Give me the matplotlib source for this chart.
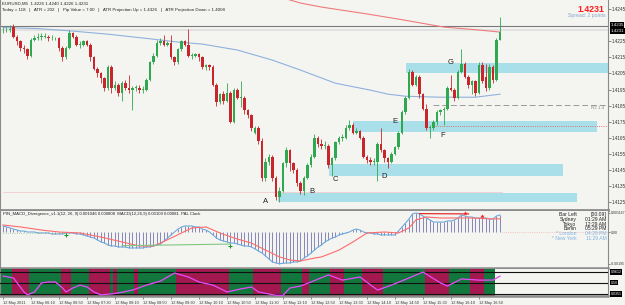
import numpy as np
import matplotlib.pyplot as plt
from matplotlib.patches import Rectangle

plt.rcParams['font.family'] = ['Liberation Sans', 'DejaVu Sans']

# EURUSD M5 candles, prices in points (1e-4)
opens = [14232, 14232, 14232, 14234, 14228, 14225, 14221, 14220, 14216, 14226,
         14227, 14228, 14228, 14228, 14227, 14227, 14227, 14221, 14215, 14221,
         14230, 14228, 14223, 14223, 14225, 14223, 14215, 14208, 14205, 14202,
         14196, 14209, 14196, 14198, 14193, 14199, 14196, 14195, 14196, 14196,
         14195, 14195, 14201, 14212, 14216, 14224, 14225, 14223, 14224, 14215,
         14212, 14220, 14225, 14223, 14216, 14216, 14217, 14215, 14209, 14210,
         14209, 14198, 14187, 14192, 14188, 14193, 14175, 14195, 14190, 14190,
         14182, 14179, 14168, 14171, 14163, 14140, 14150, 14153, 14140, 14128,
         14132, 14149, 14157, 14149, 14145, 14137, 14132, 14140, 14148, 14153,
         14165, 14161, 14160, 14160, 14148, 14152, 14162, 14165, 14165, 14171,
         14173, 14168, 14169, 14165, 14153, 14151, 14150, 14150, 14161, 14157,
         14152, 14150, 14155, 14159, 14168, 14181, 14190, 14206, 14198, 14203,
         14192, 14183, 14171, 14171, 14175, 14181, 14182, 14183, 14196, 14195,
         14190, 14206, 14211, 14203, 14198, 14200, 14193, 14210, 14203, 14196,
         14209, 14201, 14226]
highs = [14234, 14234, 14235, 14236, 14229, 14226, 14223, 14221, 14227, 14229,
         14230, 14230, 14230, 14229, 14229, 14228, 14228, 14222, 14222, 14232,
         14231, 14229, 14225, 14226, 14226, 14224, 14216, 14209, 14206, 14203,
         14210, 14210, 14200, 14199, 14200, 14201, 14204, 14197, 14198, 14198,
         14197, 14202, 14213, 14218, 14226, 14227, 14229, 14225, 14229, 14216,
         14221, 14226, 14226, 14233, 14218, 14218, 14218, 14216, 14211, 14211,
         14210, 14199, 14193, 14194, 14199, 14194, 14196, 14196, 14200, 14191,
         14183, 14180, 14172, 14172, 14165, 14152, 14155, 14154, 14141, 14134,
         14150, 14159, 14158, 14150, 14146, 14138, 14141, 14149, 14155, 14167,
         14166, 14164, 14163, 14161, 14153, 14163, 14166, 14167, 14173, 14176,
         14174, 14171, 14170, 14166, 14154, 14153, 14152, 14162, 14171, 14158,
         14153, 14156, 14160, 14169, 14182, 14191, 14208, 14207, 14204, 14204,
         14193, 14186, 14173, 14176, 14182, 14183, 14184, 14197, 14204, 14196,
         14207, 14220, 14212, 14204, 14201, 14201, 14212, 14212, 14211, 14211,
         14210, 14227, 14240]
lows = [14230, 14231, 14231, 14227, 14223, 14219, 14218, 14214, 14215, 14225,
        14226, 14226, 14227, 14225, 14226, 14226, 14219, 14213, 14214, 14220,
        14227, 14222, 14221, 14222, 14222, 14213, 14207, 14203, 14199, 14194,
        14195, 14193, 14195, 14191, 14188, 14195, 14193, 14182, 14194, 14193,
        14193, 14194, 14200, 14211, 14215, 14223, 14222, 14222, 14214, 14210,
        14211, 14219, 14222, 14215, 14214, 14215, 14213, 14208, 14207, 14207,
        14197, 14185, 14186, 14186, 14187, 14174, 14174, 14189, 14184, 14180,
        14177, 14169, 14167, 14161, 14138, 14138, 14148, 14138, 14126, 14125,
        14131, 14147, 14144, 14143, 14135, 14130, 14129, 14139, 14147, 14152,
        14159, 14158, 14158, 14146, 14141, 14151, 14161, 14163, 14164, 14170,
        14167, 14167, 14164, 14152, 14149, 14148, 14148, 14138, 14156, 14150,
        14146, 14149, 14154, 14158, 14167, 14180, 14189, 14197, 14197, 14190,
        14182, 14170, 14165, 14170, 14173, 14179, 14173, 14182, 14194, 14188,
        14189, 14205, 14202, 14196, 14192, 14191, 14192, 14199, 14194, 14195,
        14199, 14200, 14226]
closes = [14232, 14232, 14233, 14228, 14225, 14221, 14220, 14216, 14226, 14227,
          14228, 14228, 14228, 14227, 14227, 14227, 14221, 14215, 14221, 14230,
          14228, 14223, 14223, 14225, 14223, 14215, 14208, 14205, 14202, 14196,
          14209, 14196, 14198, 14193, 14199, 14196, 14195, 14196, 14196, 14195,
          14195, 14201, 14212, 14216, 14224, 14225, 14223, 14224, 14215, 14212,
          14220, 14225, 14223, 14216, 14216, 14217, 14215, 14209, 14210, 14209,
          14198, 14187, 14192, 14188, 14193, 14175, 14195, 14190, 14190, 14182,
          14179, 14171, 14171, 14163, 14140, 14150, 14153, 14140, 14128, 14132,
          14149, 14157, 14149, 14145, 14137, 14132, 14140, 14148, 14153, 14165,
          14161, 14160, 14160, 14148, 14152, 14162, 14165, 14165, 14171, 14173,
          14168, 14169, 14165, 14153, 14151, 14150, 14150, 14161, 14157, 14152,
          14150, 14155, 14159, 14168, 14181, 14190, 14206, 14198, 14203, 14192,
          14183, 14171, 14171, 14175, 14181, 14182, 14183, 14196, 14195, 14190,
          14206, 14211, 14203, 14198, 14200, 14193, 14210, 14200, 14196, 14209,
          14201, 14226, 14231]

# moving averages (bar index, price points)
ma_blue_bar = [0, 10, 20, 30, 40, 50, 57, 67, 77, 85, 95, 105, 110, 115, 125, 135, 142]
ma_blue_val = [14233.6, 14233.0, 14231.4, 14229.5, 14227.1, 14224.6, 14223.3, 14219.6,
               14213.3, 14207.1, 14198.9, 14194.6, 14192.1, 14190.8, 14190.2, 14190.2, 14192.1]
ma_red_bar = [79, 82, 85, 91, 104, 113, 126, 136, 142]
ma_red_val = [14253.3, 14250.8, 14248.9, 14246.4, 14242.1, 14238.9, 14233.9, 14232.1, 14230.8]

# supply / demand zones: start bar, end bar, low, high (points)
zone_start = [115.1, 100.0, 93.1, 78.6]
zone_end = [173.0, 169.7, 160.0, 164.0]
zone_low = [14205.2, 14168.6, 14140.8, 14124.6]
zone_high = [14211.5, 14175.2, 14148.3, 14130.2]

point_labels = ['A', 'B', 'C', 'D', 'E', 'F', 'G']
point_bar = [75.1, 88.3, 95.1, 108.9, 112.0, 125.7, 128.0]
point_val = [14125.2, 14131.4, 14138.9, 14140.8, 14174.9, 14166.4, 14212.1]

price_ticks = [1.4245, 1.4225, 1.4215, 1.4205, 1.4195, 1.4185, 1.4175,
               1.4165, 1.4155, 1.4145, 1.4135, 1.4125]

# MACD main per bar (1e-5)
macd = [37, 31, 25, 18, 12, 6, 6, 0, 0, 0, -6, -6, -6, -6, -12, -12, -12, -12, -6, -6,
        -6, -12, -12, -18, -25, -31, -37, -49, -61, -68, -80, -86, -86, -92, -92, -92, -98, -98, -98, -98,
        -98, -92, -92, -86, -80, -74, -55, -37, -18, 0, 18, 31, 37, 37, 37, 31, 31, 18, 12, 0,
        -18, -37, -49, -55, -61, -68, -68, -74, -80, -86, -86, -92, -104, -117, -129, -147, -166, -184, -190, -195,
        -192, -190, -190, -184, -184, -178, -160, -147, -129, -111, -92, -80, -61, -49, -37, -31, -18, -12, -6, 0,
        12, 18, 12, 0, -6, -6, -12, -12, -18, -18, -18, -18, -18, 6, 31, 55, 80, 111, 117, 111,
        98, 86, 74, 61, 61, 61, 61, 68, 68, 74, 86, 104, 98, 92, 92, 86, 86, 86, 86, 80,
        80, 98, 105]
sig_bar = [0, 5, 11, 16, 22, 28, 34, 39, 43, 45, 51, 54, 58, 62, 66, 71, 75, 79, 82, 85,
           89, 91, 96, 100, 104, 109, 113, 116, 118, 121, 125, 129, 134, 140, 142]
sig_val = [43, 31, 12, 0, -6, -31, -61, -86, -86, -68, -6, 25, 31, -6, -37, -68, -111, -153, -172, -178,
           -160, -153, -111, -61, -6, 0, -6, 25, 74, 92, 86, 86, 86, 80, 81]

# oscillator sub-window
osc_bar = [0, 3, 6, 7, 9, 11, 13, 15, 17, 18, 20, 22, 24, 26, 28, 31, 33, 37, 41, 45, 49, 53,
           56, 60, 64, 68, 71, 73, 78, 80, 82, 85, 88, 93, 97, 102, 107, 111, 116, 120, 125,
           127, 131, 136, 140, 142]
osc_val = [0.79, 0.71, 0.12, 0.0, 0.12, 0.50, 0.54, 0.54, 0.29, 0.12, 0.29, 0.41, 0.33, 0.12,
           0.0, 0.04, 0.08, 0.20, 0.41, 0.58, 0.92, 0.75, 0.54, 0.41, 0.12, 0.25, 0.33, 0.12,
           -0.02, -0.02, 0.29, 0.37, 0.54, 0.84, 0.62, 0.75, 0.20, 0.41, 0.71, 0.96, 0.50, 0.37,
           0.67, 0.62, 0.62, 0.79]
state_bounds = [-1, 2.5, 7.5, 16.5, 19.5, 24.5, 30.5, 31.5, 32.5, 37.5, 38.5, 49.5, 64.5,
                71.5, 79.5, 85.5, 87.5, 93.5, 97.5, 102.5, 108.5, 120.5, 127.5, 133.5, 137.5, 140.5]
osc_levels = [0.9612, 0.5, 0.0351]

time_labels = ['12 May 2011', '12 May 06:10', '12 May 06:50', '12 May 07:30', '12 May 08:10',
               '12 May 08:50', '12 May 09:30', '12 May 10:10', '12 May 10:50', '12 May 11:30',
               '12 May 12:10', '12 May 12:50', '12 May 13:30', '12 May 14:10', '12 May 14:50',
               '12 May 15:30', '12 May 16:10', '12 May 16:50']

clock_names = ['Bar Left', 'Sydney', 'Tokyo', 'Berlin', '* London', '* New York']
clock_times = ['[00:09]', '01:29 AM', '12:29 AM', '05:29 PM', '04:29 PM', '11:29 AM']

W, H = 625, 305
BG = '#f4f5f1'
fig = plt.figure(figsize=(W / 100, H / 100), dpi=100, facecolor=BG)


def px_axes(x0, y0, x1, y1):
    return fig.add_axes([x0 / W, 1 - y1 / H, (x1 - x0) / W, (y1 - y0) / H], facecolor=BG)


def ftext(x, y, s, **kw):
    fig.text(x / W, 1 - y / H, s, va='center', **kw)


XL = (-0.857, 172.86)
bars = np.arange(len(closes))
o = np.array(opens) / 1e4
h = np.array(highs) / 1e4
l = np.array(lows) / 1e4
c = np.array(closes) / 1e4

# ---------------- main chart ----------------
ax = px_axes(0, 0, 608, 209.5)
ax.set_xlim(*XL)
ax.set_ylim(1.41202, 1.42508)

for s, e, lo, hi in zip(zone_start, zone_end, zone_low, zone_high):
    ax.add_patch(Rectangle((s, lo / 1e4), e - s, (hi - lo) / 1e4, facecolor='#a9dfe9',
                           edgecolor='none', zorder=1))

ax.axhline(1.42345, color='#7a7a7a', lw=0.8, zorder=2)
ax.axhline(1.42322, color='#dedede', lw=1.2, zorder=1)
ax.plot([0, 142.5], [1.41314, 1.41314], color='#f1cccc', lw=0.6, zorder=1)
ax.plot([123, XL[1]], [1.41852, 1.41852], color='#9a9a9a', lw=0.7, ls=(0, (6, 3)), zorder=2)
ax.plot([123, XL[1]], [1.41723, 1.41723], color='#e05050', lw=0.6, ls=':', zorder=2)
ax.text(168, 1.41835, 'R2 1.4', fontsize=3.2, color='#8a8a8a', va='center', clip_on=True)

ax.plot(ma_blue_bar, np.array(ma_blue_val) / 1e4, color='#8fb1dc', lw=0.8, zorder=2)
ax.plot(ma_red_bar, np.array(ma_red_val) / 1e4, color='#f07a7a', lw=0.8, zorder=2)

up = c >= o
cols = np.where(up, '#2fa84f', '#c9252c')
ax.vlines(bars, l, h, colors=cols, lw=0.6, zorder=3)
body = np.maximum(np.abs(c - o), 0.00004)
ax.bar(bars, body, bottom=np.minimum(o, c), width=0.62, color=cols, lw=0, zorder=4)

for lab, b, v in zip(point_labels, point_bar, point_val):
    ax.text(b, v / 1e4, lab, fontsize=5.5, color='#222222', ha='center', va='center', zorder=5)

ax.yaxis.tick_right()
ax.set_yticks(price_ticks)
ax.set_yticklabels(['%.4f' % p for p in price_ticks])
ax.tick_params(axis='y', labelsize=3.3, length=2, width=0.4, pad=1, colors='#333333')
ax.set_xticks([])
ax.spines['top'].set_visible(False)
ax.spines['left'].set_color('#8a8a8a')
ax.spines['right'].set_color('#8a8a8a')
ax.spines['bottom'].set_color('#8c8c8c')
ax.spines['bottom'].set_linewidth(2)

for txt, price in [('1.4235', 1.42352), ('1.4231', 1.42314)]:
    ax.text(1.004, price, txt, transform=ax.get_yaxis_transform(), fontsize=3.2, color='white',
            va='center', ha='left', zorder=6,
            bbox=dict(boxstyle='square,pad=0.15', fc='black', ec='none'))

ftext(2, 4, 'EURUSD,M5  1.4226 1.4240 1.4226 1.4231', fontsize=3.2, color='#222222')
ftext(2, 9.5, 'Today = 118   |   ATR = 202   |   Pip Value = 7.00   |   ATR Projection Up = 1.4326'
      '   |   ATR Projection Down = 1.4008', fontsize=3.2, color='#222222')
ftext(604, 9.5, '1.4231', fontsize=6.3, color='#ff1a1a', fontweight='bold', ha='right')
ftext(606, 15.5, 'Spread: 2 points', fontsize=3.7, color='#8aa4c8', ha='right')

# ---------------- MACD window ----------------
m = np.array(macd) * 1e-5
axm = px_axes(0, 210.5, 608, 268)
axm.set_xlim(*XL)
axm.set_ylim(-0.00221, 0.00132)
axm.vlines(bars, 0, m, colors='#5b5ba6', lw=0.5, zorder=2)
axm.plot(bars, m, color='#6fa8dc', lw=0.8, zorder=3)
axm.plot(sig_bar, np.array(sig_val) * 1e-5, color='#ff6b6b', lw=0.8, zorder=3)
axm.plot([0, 18], [-0.00006, -0.00006], color='#8fd08f', lw=0.6, ls=':', zorder=3)
axm.plot([34, 65], [-0.00084, -0.00074], color='#80c880', lw=0.8, zorder=3)
axm.plot([119, 133], [0.00113, 0.00111], color='#e03030', lw=0.9, zorder=4)
axm.plot([18, 65], [-0.00018, -0.00086], '+', color='#1a9a2a', ms=3, mew=0.8, zorder=5)
axm.plot([132, 137], [0.00117, 0.00098], '*', color='#ff2020', ms=2.5, mew=0.3, zorder=5)
axm.plot([142.5, XL[1]], [0, 0], color='#f0a0a0', lw=0.5, ls=':')
axm.yaxis.tick_right()
axm.set_yticks([0.001167, 0.0, -0.00195])
axm.set_yticklabels(['0.001167', '0.00', '-0.00195'])
axm.tick_params(axis='y', labelsize=2.5, length=1.5, width=0.4, pad=0.6, colors='#333333')
axm.set_xticks([])
axm.spines['top'].set_visible(False)
for sp in ['left', 'right']:
    axm.spines[sp].set_color('#8a8a8a')
axm.spines['bottom'].set_color('#8c8c8c')
axm.spines['bottom'].set_linewidth(1.8)

ftext(3, 214.5, 'PIN_MACD_Divergence_v1.1(12, 26, 9) 0.001046 0.000808  MACD(12,26,9) 0.00109 '
      '0.00081  PAL Clock', fontsize=3.1, color='#222222')
for k, (nm, tm) in enumerate(zip(clock_names, clock_times)):
    col = '#222222' if k < 4 else '#7fb2e5'
    yy = 214.3 + k * 4.9
    ftext(576.5, yy, nm, fontsize=3.6, color=col, ha='right')
    ftext(606.5, yy, tm, fontsize=3.6, color=col, ha='right')

# ---------------- oscillator window ----------------
axo = px_axes(0, 269, 608, 296)
axo.set_xlim(*XL)
axo.set_ylim(-0.049, 1.0875)
for k in range(len(state_bounds) - 1):
    col = '#12773c' if k % 2 == 0 else '#a3184f'
    axo.axvspan(state_bounds[k], state_bounds[k + 1], color=col, lw=0, zorder=1)
axo.add_patch(Rectangle((state_bounds[0], -0.049), state_bounds[-1] - state_bounds[0], 0.07,
                        facecolor='#7a1020', edgecolor='none', zorder=2))
for lv in osc_levels:
    axo.axhline(lv, color='#111111', lw=0.8, zorder=3)
axo.plot(osc_bar, osc_val, color='#ff3cff', lw=0.9, zorder=4)
axo.plot(osc_bar, osc_val, color='#6f8fe0', lw=0.4, ls=(0, (2, 3)), zorder=5)
axo.set_yticks([])
axo.set_xticks(np.arange(0, 137, 8))
axo.set_xticklabels(time_labels, ha='left')
axo.tick_params(axis='x', labelsize=2.8, length=2, width=0.4, pad=1.5, colors='#333333')
axo.spines['top'].set_visible(False)
for sp in ['left', 'right']:
    axo.spines[sp].set_color('#8a8a8a')
axo.spines['bottom'].set_color('#8c8c8c')
axo.spines['bottom'].set_linewidth(1.8)
for lv, txt in zip(osc_levels, ['0.9612', '0.50', '0.0351']):
    axo.text(1.004, lv, txt, transform=axo.get_yaxis_transform(), fontsize=2.6, color='white',
             va='center', ha='left', bbox=dict(boxstyle='square,pad=0.15', fc='black', ec='none'))

fig.savefig('out.png', dpi=100, facecolor=BG)
